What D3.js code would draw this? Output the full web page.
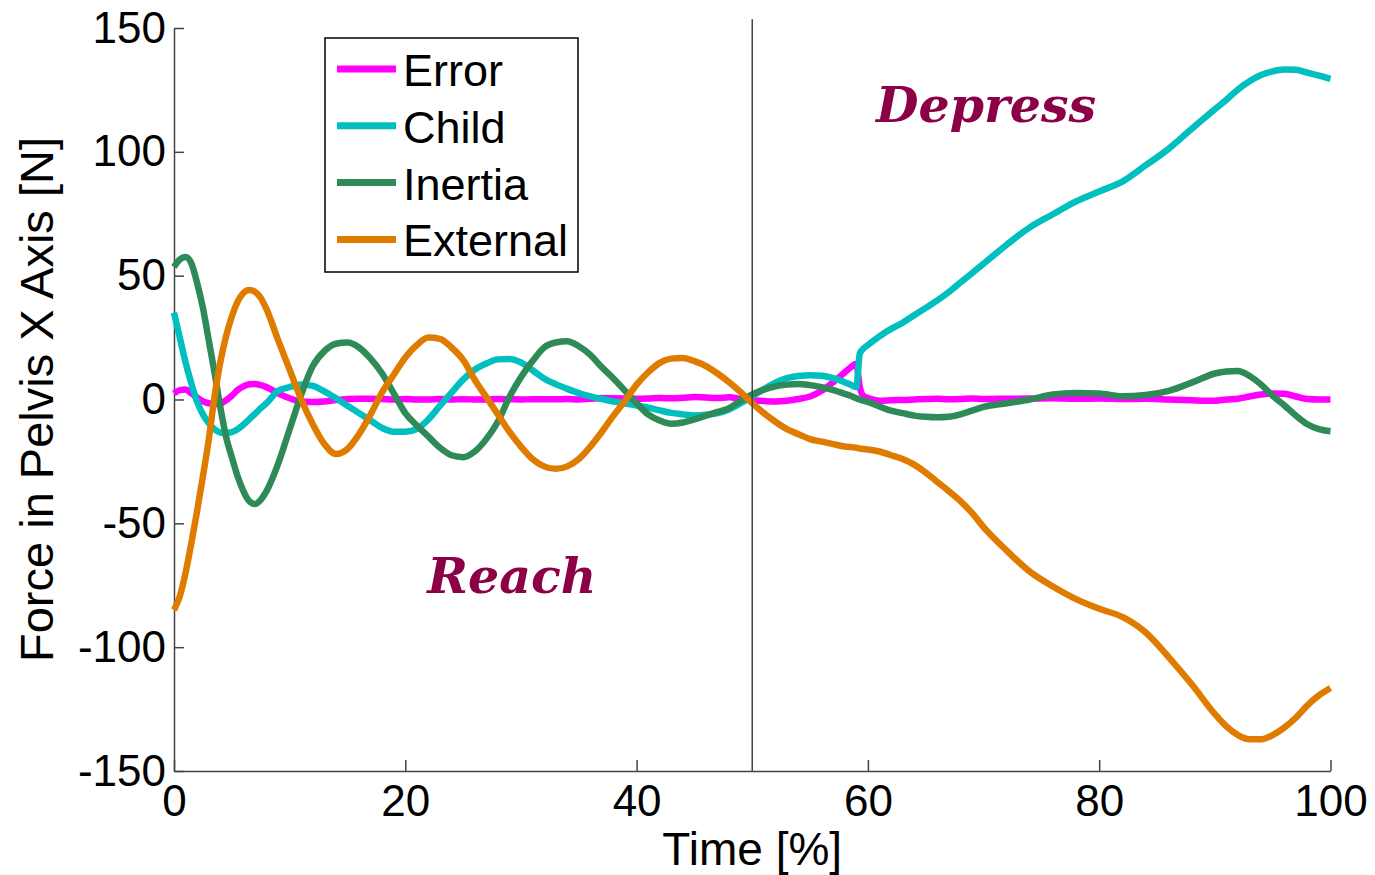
<!DOCTYPE html>
<html>
<head>
<meta charset="utf-8">
<script src="https://cdn.jsdelivr.net/npm/d3@7"></script>
<style>
  body { margin: 0; background: #fff; }
  svg { display: block; }
  .tick text { font-family: "Liberation Sans", Arial, sans-serif; font-size: 44px; fill: #000; }
</style>
</head>
<body>
<svg id="chart" width="1375" height="875"></svg>
<script>
// time axis (% of motion), shared by all series
const time = [0, 0.5, 1, 1.5, 2, 2.5, 3, 3.5, 4, 4.5, 5, 5.5, 6, 6.5, 7, 7.5, 8,
  9, 10, 11, 12, 13, 14, 15, 16, 17, 18, 19, 20, 21, 22, 23, 24, 25, 26, 27, 28, 29,
  30, 31, 32, 33, 34, 35, 36, 37, 38, 39, 40, 41, 42, 43, 44, 45, 46, 47, 48, 49,
  50, 51, 52, 53, 54, 55, 56, 57, 58, 58.5, 59, 59.3, 59.6,
  60, 61, 62, 63, 64, 65, 66, 67, 68, 69, 70,
  72, 74, 76, 78, 80, 82, 84, 86, 88,
  90, 91, 92, 93, 94, 95, 96, 97, 98, 99, 100];

const errorForce = [2.5, 3.8, 4, 2.5, 0.8, -0.7, -1.5, -1.8, -1.6, -0.3, 1.5, 3.8, 5.3, 6.2, 6.3, 5.8, 5,
  2.5, 0.5, -0.8, -1, -0.8, -0.2, 0.2, 0.3, 0.3, 0.2, 0, 0.2, 0, 0, 0.2, 0, 0.1, 0, 0, 0.2, 0.1,
  0, 0.1, 0.1, 0.1, 0.2, 0, 0.3, 0.6, 0.5, 0.4, 0.3, 0.4, 0.6, 0.5, 0.7, 1, 0.8, 0.6, 0.9, 0.2,
  -0.3, -0.6, -0.8, -0.5, 0.2, 1.2, 3.5, 7, 11, 13, 14.4, 5, 1.5,
  0.6, -0.5, -0.3, -0.2, 0, 0.2, 0.3, 0.1, 0.2, 0.4, 0.2,
  0.3, 0.4, 0.5, 0.3, 0.4, 0.2, 0.3, 0, -0.3,
  -0.5, 0, 0.3, 1.2, 2, 2.4, 2.3, 1.2, 0.2, 0, 0];

const childForce = [35, 25, 15, 6.5, -1, -6, -9.5, -12, -13.3, -13.5, -13.2, -12, -10.2, -8, -5.8, -3.5, -1.5,
  3.5, 5, 6.1, 5.5, 3.3, 0.5, -2.5, -5.5, -8.5, -11.5, -13, -13, -11.9, -8, -2.5, 2.8, 8, 12, 14.5, 16.2, 16.4,
  15, 11.8, 8.5, 6.2, 4.3, 2.6, 1.3, 0.2, -0.8, -1.6, -2.4, -3.3, -4.4, -5.4, -6, -6.5, -6.2, -5.5, -4, -1.5,
  1.3, 4.2, 6.8, 8.6, 9.5, 9.8, 9.6, 8.6, 7, 6, 5, 18.5, 20.5,
  22, 25.5, 28.5, 31, 34, 37, 40, 43.4, 47.2, 51, 54.8,
  62.5, 69.5, 74.8, 80, 84, 88, 94.5, 101.2, 109.3,
  117.2, 121, 125.2, 128.5, 131, 132.5, 133.2, 133.1, 132, 130.8, 129.5];

const inertiaForce = [53.5, 56.5, 57.5, 55, 47, 37, 24, 11, -3, -15, -23.3, -31, -37, -41, -42.2, -40.5, -37,
  -26, -12, 2, 13.5, 19.5, 22.5, 23, 21, 16.5, 10.5, 2.5, -5.5, -10.5, -15, -19.5, -22.5, -23.3, -21, -16, -9, 1,
  9, 15.5, 21, 23, 23.5, 21.5, 18, 13, 8.5, 3.5, -1.5, -6, -8.5, -9.8, -9.3, -8, -6.5, -5, -3.5, -0.5,
  2, 4, 5.3, 6, 6.3, 5.8, 5, 3.8, 2.3, 1.5, 0.5, 0, -0.5,
  -1, -2.8, -4.5, -5.5, -6.5, -7, -7.2, -7, -6, -4.5, -3,
  -1.5, 0, 2, 2.6, 2.4, 1.3, 1.8, 3.5, 6.8,
  10.5, 11.3, 11.5, 9.5, 6, 1.5, -2.3, -6.5, -10, -12, -12.8];

const externalForce = [-85, -79.5, -70, -58, -45, -31, -16.4, 1, 15, 25.5, 33.5, 39.5, 43, 44.2, 43.5, 41, 36.5,
  24, 12, 0, -10, -18, -22, -20, -14, -6, 3, 10, 17, 22, 25, 24.5, 21, 16, 8, 1, -6, -13,
  -19, -24, -27, -28, -27, -24, -19, -13, -6.5, -0.5, 6, 11, 14.8, 16.5, 16.8, 15.5, 13.5, 10.5, 7, 3,
  -1.5, -5.5, -9, -12, -14, -16, -17, -18, -19, -19.2, -19.5, -19.8, -20,
  -20.2, -21, -22.5, -24, -26.3, -29.5, -33.3, -37, -41, -45.8, -51.5,
  -61, -69.5, -75.5, -80.6, -84.5, -87.8, -94, -104, -115,
  -127, -132, -135.5, -137.2, -137.2, -135.5, -132.5, -128.5, -123.5, -119.5, -116.5];

const seriesNames = ['Error', 'Child', 'Inertia', 'External'];
const seriesValues = [errorForce, childForce, inertiaForce, externalForce];
const seriesColors = ['#ff00ff', '#00bfbf', '#2e8b57', '#df7c00'];

const xTicks = [0, 20, 40, 60, 80, 100];
const yTicks = [-150, -100, -50, 0, 50, 100, 150];
const phaseSplit = 50;
const phaseLabels = [{ text: 'Reach', t: 21.9, v: -78 }, { text: 'Depress', t: 60.7, v: 112 }];

const svg = d3.select('#chart');
const plotLeft = 174, plotRight = 1330.5, plotTop = 28, plotBottom = 771;
const font = '"Liberation Sans", Arial, sans-serif';

const x = d3.scaleLinear().domain([0, 100]).range([plotLeft, plotRight]);
const y = d3.scaleLinear().domain([-150, 150]).range([plotBottom, plotTop]);

// axes (box off, ticks pointing inward like matlab)
svg.append('g')
    .attr('transform', `translate(0,${plotBottom})`)
    .call(d3.axisBottom(x).tickValues(xTicks).tickFormat(d => String(d))
        .tickSizeInner(-11).tickSizeOuter(0).tickPadding(14));
svg.append('g')
    .attr('transform', `translate(${plotLeft},0)`)
    .call(d3.axisLeft(y).tickValues(yTicks).tickFormat(d => String(d))
        .tickSizeInner(-10).tickSizeOuter(0).tickPadding(8));
svg.selectAll('.domain, .tick line').attr('stroke', '#444').attr('stroke-width', 1.5);

// curves
const line = d3.line()
    .x((d, i) => x(time[i]))
    .y(d => y(d))
    .curve(d3.curveMonotoneX);

svg.append('g')
    .selectAll('path')
    .data(seriesValues)
    .join('path')
    .attr('fill', 'none')
    .attr('stroke', (d, i) => seriesColors[i])
    .attr('stroke-width', 6.5)
    .attr('stroke-linejoin', 'round')
    .attr('d', d => line(d));

// phase separator
svg.append('line')
    .attr('x1', x(phaseSplit)).attr('x2', x(phaseSplit))
    .attr('y1', y(-150)).attr('y2', y(153.5))
    .attr('stroke', '#444').attr('stroke-width', 1.5);

// phase labels
svg.selectAll('.phase')
    .data(phaseLabels)
    .join('text')
    .attr('class', 'phase')
    .attr('x', d => x(d.t))
    .attr('y', d => y(d.v))
    .attr('font-family', '"DejaVu Serif", serif')
    .attr('font-style', 'italic')
    .attr('font-weight', 'bold')
    .attr('font-size', 49)
    .attr('fill', '#8c0046')
    .text(d => d.text);

// axis labels
svg.append('text')
    .attr('x', (plotLeft + plotRight) / 2)
    .attr('y', 865)
    .attr('text-anchor', 'middle')
    .attr('font-family', font)
    .attr('font-size', 46)
    .text('Time [%]');

svg.append('text')
    .attr('transform', `translate(53,${(plotTop + plotBottom) / 2}) rotate(-90)`)
    .attr('text-anchor', 'middle')
    .attr('font-family', font)
    .attr('font-size', 47)
    .text('Force in Pelvis X Axis [N]');

// legend
const legend = svg.append('g').attr('transform', 'translate(325,38)');
legend.append('rect')
    .attr('width', 253).attr('height', 234)
    .attr('fill', '#fff').attr('stroke', '#000').attr('stroke-width', 1.5);

const rows = legend.selectAll('.row')
    .data(seriesNames)
    .join('g')
    .attr('transform', (d, i) => `translate(0,${31 + i * 56.8})`);
rows.append('line')
    .attr('x1', 12).attr('x2', 71)
    .attr('stroke', (d, i) => seriesColors[i])
    .attr('stroke-width', 7);
rows.append('text')
    .attr('x', 78).attr('y', 17)
    .attr('font-family', font)
    .attr('font-size', 45)
    .text(d => d);
</script>
</body>
</html>
